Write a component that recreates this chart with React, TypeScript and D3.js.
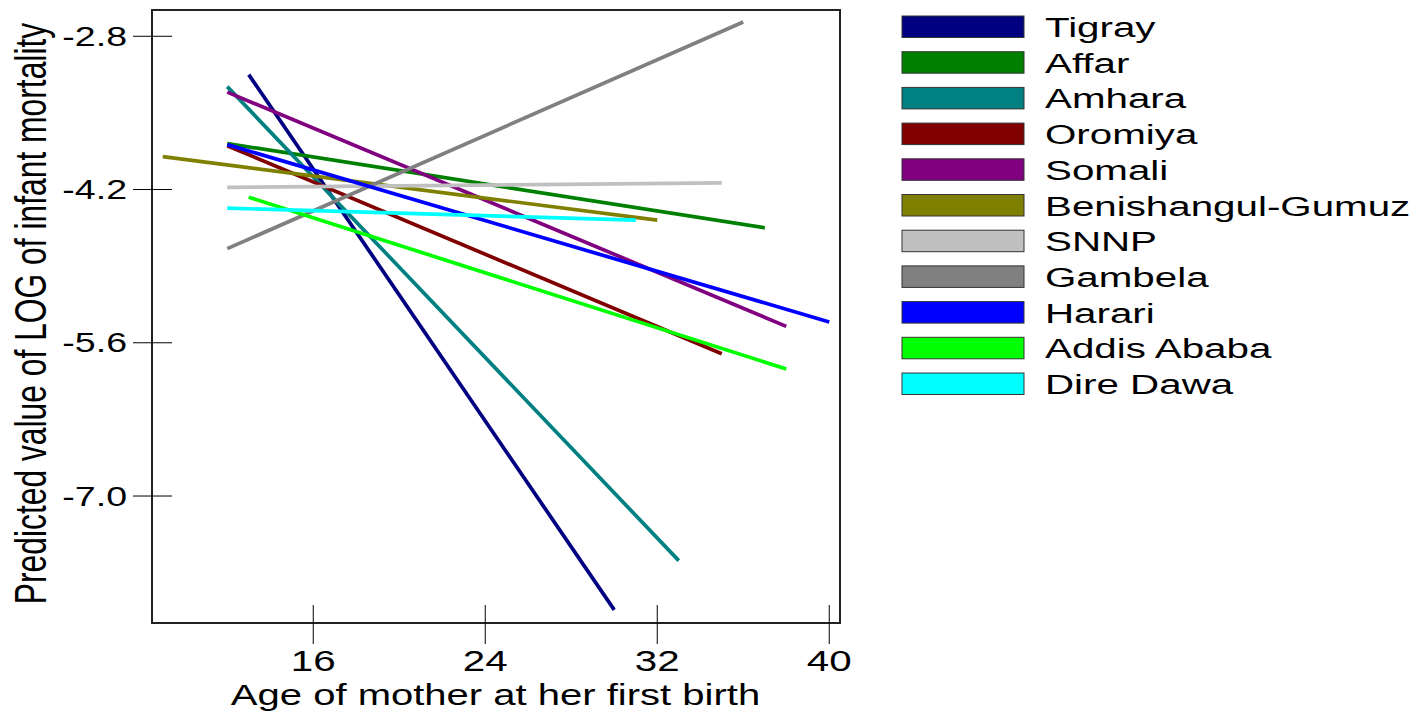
import * as d3 from "d3";
import { useEffect, useRef } from "react";

const regions = [
  "Tigray",
  "Affar",
  "Amhara",
  "Oromiya",
  "Somali",
  "Benishangul-Gumuz",
  "SNNP",
  "Gambela",
  "Harari",
  "Addis Ababa",
  "Dire Dawa",
];
const colors = [
  "#000080",
  "#008000",
  "#008080",
  "#800000",
  "#800080",
  "#808000",
  "#c0c0c0",
  "#808080",
  "#0000ff",
  "#00ff00",
  "#00ffff",
];
// age range of each fitted line
const ageStart = [13, 12, 12, 12, 12, 9, 12, 12, 12, 13, 12];
const ageEnd = [30, 37, 33, 35, 38, 32, 35, 36, 40, 38, 31];
// predicted log infant mortality at both ends
const valueStart = [-3.15, -3.78, -3.26, -3.8, -3.31, -3.9, -4.18, -4.74, -3.79, -4.27, -4.37];
const valueEnd = [-8.04, -4.55, -7.59, -5.7, -5.45, -4.48, -4.14, -2.67, -5.41, -5.84, -4.48];

const xTicks = [16, 24, 32, 40];
const yTicks = [-2.8, -4.2, -5.6, -7.0];

const FONT = "'Liberation Sans', Arial, sans-serif";
const SX = 1.39; // glyphs in the source are stretched wide

const App: React.FC = () => {
  const ref = useRef<SVGSVGElement | null>(null);

  useEffect(() => {
    if (!ref.current) return;
    const svg = d3.select(ref.current);
    svg.selectAll("*").remove();

    const left = 152;
    const right = 840;
    const top = 10;
    const bottom = 623;

    const x = d3.scaleLinear().domain([8.5, 40.5]).range([left, right]);
    const y = d3.scaleLinear().domain([-2.56, -8.16]).range([top, bottom]);

    // series lines
    const line = d3
      .line<[number, number]>()
      .x((d) => x(d[0]))
      .y((d) => y(d[1]));

    regions.forEach((_, i) => {
      const pts: [number, number][] = [
        [ageStart[i], valueStart[i]],
        [ageEnd[i], valueEnd[i]],
      ];
      svg
        .append("path")
        .datum(pts)
        .attr("fill", "none")
        .attr("stroke", colors[i])
        .attr("stroke-width", 3.7)
        .attr("d", line);
    });

    // frame
    svg
      .append("rect")
      .attr("x", left)
      .attr("y", top)
      .attr("width", right - left)
      .attr("height", bottom - top)
      .attr("fill", "none")
      .attr("stroke", "#222")
      .attr("stroke-width", 2);

    // y ticks
    yTicks.forEach((t) => {
      svg
        .append("line")
        .attr("x1", left - 19)
        .attr("x2", left + 20)
        .attr("y1", y(t))
        .attr("y2", y(t))
        .attr("stroke", "#000")
        .attr("stroke-width", 1);
      svg
        .append("text")
        .attr("transform", `translate(${left - 25},${y(t) + 9.7}) scale(${SX},1)`)
        .attr("text-anchor", "end")
        .attr("font-family", FONT)
        .attr("font-size", 27)
        .text(t.toFixed(1));
    });

    // x ticks
    xTicks.forEach((t) => {
      svg
        .append("line")
        .attr("x1", x(t))
        .attr("x2", x(t))
        .attr("y1", bottom - 18)
        .attr("y2", bottom + 21)
        .attr("stroke", "#000")
        .attr("stroke-width", 1);
      svg
        .append("text")
        .attr("transform", `translate(${x(t)},${bottom + 48}) scale(${SX},1)`)
        .attr("text-anchor", "middle")
        .attr("font-family", FONT)
        .attr("font-size", 29)
        .text(String(t));
    });

    // axis titles
    svg
      .append("text")
      .attr("transform", `translate(${(231 + 760) / 2},705) scale(${SX},1)`)
      .attr("text-anchor", "middle")
      .attr("font-family", FONT)
      .attr("font-size", 28.8)
      .text("Age of mother at her first birth");

    svg
      .append("text")
      .attr("transform", `translate(46,313.5) rotate(-90) scale(1,${SX})`)
      .attr("text-anchor", "middle")
      .attr("font-family", FONT)
      .attr("font-size", 31.8)
      .text("Predicted value of LOG of infant mortality");

    // legend
    const legend = svg.append("g");
    regions.forEach((name, i) => {
      const ly = 16 + i * 35.7;
      legend
        .append("rect")
        .attr("x", 902)
        .attr("y", ly)
        .attr("width", 122)
        .attr("height", 21.5)
        .attr("fill", colors[i])
        .attr("stroke", "#333")
        .attr("stroke-width", 1);
      legend
        .append("text")
        .attr("transform", `translate(1045,${ly + 21}) scale(1.43,1)`)
        .attr("font-family", FONT)
        .attr("font-size", 28.2)
        .text(name);
    });
  }, []);

  return (
    <svg
      ref={ref}
      width={1423}
      height={714}
      style={{ position: "absolute", left: 0, top: 0, background: "#fff" }}
    />
  );
};

export default App;
